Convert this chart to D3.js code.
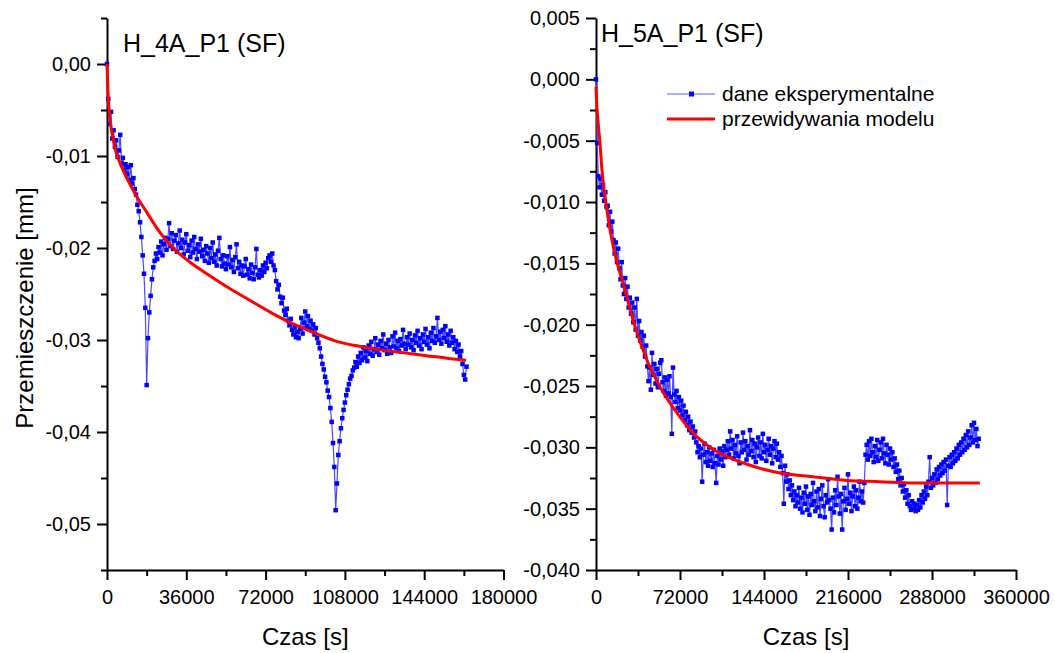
<!DOCTYPE html>
<meta charset="utf-8">
<style>
  body {
    margin: 0;
    background: #fff;
    font-family: Arial, "Liberation Sans", sans-serif;
  }
  .axis path, .axis line {
    stroke: #000;
    stroke-width: 2;
  }
  .axis text {
    font-family: Arial, "Liberation Sans", sans-serif;
    font-size: 20px;
    fill: #000;
  }
  .title {
    font-size: 25px;
  }
  .label {
    font-size: 24px;
  }
  .legend text {
    font-size: 21px;
  }
</style>
<body>
  <script src="https://d3js.org/d3.v7.min.js"></script>
  <script>
    var width = 1055,
    height = 653;

    // H_4A_P1 (SF): one reading every 600 s, displacement in micrometres
    var leftStep = 600;
    var leftDispUm = [
      0, -3.8, -6.5, -5.2, -8.1, -7.2, -9.0, -8.3, -10.1, -9.4,
      -7.7, -10.8, -10.2, -11.5, -10.9, -12.0, -11.2, -12.6, -11.0, -13.0,
      -12.4, -13.6, -14.2, -15.3, -16.0, -17.2, -18.8, -20.8, -22.8, -26.5,
      -34.9, -29.8, -27.0, -25.2, -23.4, -22.1, -21.4, -20.6, -21.2, -19.9,
      -20.5, -19.3, -20.8, -19.6, -18.9, -20.2, -19.0, -17.3, -19.8, -18.4,
      -20.1, -19.2, -18.6, -20.4, -19.5, -18.1, -20.0, -19.1, -20.7, -19.4,
      -18.5, -20.3, -19.7, -21.0, -19.2, -20.5, -18.8, -20.1, -21.2, -19.6,
      -20.4, -19.0, -20.9, -20.2, -21.4, -19.8, -20.6, -21.6, -20.0, -21.1,
      -19.4, -21.5, -20.7, -21.9, -20.3, -18.9, -21.2, -22.0, -20.8, -21.7,
      -22.3, -20.9, -21.8, -19.9, -22.1, -21.3, -22.6, -21.0, -19.6, -22.2,
      -21.5, -22.8, -21.9, -23.0, -22.0, -21.2, -22.9, -22.3, -23.3, -21.8,
      -22.7, -23.4, -22.1, -20.1, -22.9, -23.2, -22.4, -23.0, -21.9, -22.6,
      -21.6, -22.2, -21.1, -20.8, -21.5, -20.6, -21.9, -22.4, -23.6, -24.5,
      -24.0, -25.3, -26.0, -25.4, -26.8, -27.3, -26.6, -27.9, -28.4, -27.7,
      -28.9, -29.4, -28.6, -29.7, -29.1, -29.8, -28.8, -27.6, -29.3, -28.1,
      -26.9, -28.5, -27.4, -28.8, -27.9, -29.0, -28.3, -29.4, -28.7, -29.8,
      -30.3, -30.9, -31.8, -32.6, -33.2, -34.0, -34.6, -35.5, -36.2, -37.4,
      -38.9, -41.2, -43.8, -48.5, -45.6, -42.5, -41.0, -39.6, -38.5, -37.6,
      -36.8, -36.0, -35.4, -34.8, -34.2, -33.9, -33.3, -33.0, -32.4, -32.9,
      -31.8, -32.5, -31.4, -32.2, -30.8, -31.9, -31.2, -32.3, -30.6, -31.5,
      -30.2, -31.7, -31.0, -29.8, -31.3, -30.5, -31.6, -30.1, -30.9, -29.4,
      -31.1, -30.4, -31.5, -30.0, -30.8, -31.4, -29.6, -30.7, -29.2, -30.9,
      -30.1, -31.2, -29.9, -30.6, -28.9, -30.4, -31.0, -29.7, -30.5, -29.3,
      -30.8, -30.0, -31.1, -29.5, -30.3, -29.0, -30.6, -29.8, -31.0, -29.4,
      -30.2, -28.8, -30.5, -29.7, -30.9, -29.2, -30.1, -28.7, -30.3, -29.6,
      -27.6, -30.0, -29.1, -30.4, -28.9, -29.8, -28.5, -30.2, -29.4, -30.6,
      -29.0, -30.3, -29.7, -31.0, -30.1, -31.3, -30.5, -31.8, -31.2, -32.6,
      -33.8, -34.3, -32.9
    ];
    var leftModelTime = [0, 300, 800, 1500, 2500, 4000, 6000, 9000, 13000, 18000, 24000, 30000, 38000,
      46000, 55000, 65000, 75000, 85000, 95000, 105000, 115000, 125000, 135000, 145000, 155000, 163000];
    var leftModelDisp = [0, -0.0022, -0.0045, -0.0063, -0.0078, -0.0095, -0.0108, -0.0124, -0.0142, -0.0161,
      -0.0183, -0.0200, -0.0216, -0.0229, -0.0243, -0.0257, -0.0271, -0.0283, -0.0293, -0.0302, -0.0307,
      -0.0311, -0.0314, -0.0317, -0.0320, -0.0322];

    // H_5A_P1 (SF): one reading every 1000 s, displacement in micrometres
    var rightStep = 1000;
    var rightDispUm = [
      0, -5.2, -7.9, -8.8, -8.1, -9.4, -8.6, -9.9, -9.2, -10.4,
      -10.3, -11.9, -10.8, -12.4, -11.6, -13.1, -14.2, -13.3, -14.9, -13.8,
      -15.4, -16.3, -14.9, -16.8, -17.5, -16.2, -17.9, -16.9, -18.6, -17.8,
      -19.1, -18.2, -19.8, -18.6, -20.4, -17.9, -20.9, -19.7, -21.3, -20.6,
      -21.8, -20.9, -22.6, -21.7, -23.4, -24.6, -23.5, -25.3, -22.3, -24.1,
      -23.2, -24.8, -23.6, -25.1, -24.0, -23.1, -22.9, -24.7, -25.4, -24.3,
      -25.8, -24.5, -25.6, -24.2, -25.9, -28.9, -23.5, -25.7, -26.3, -25.4,
      -26.8, -25.9, -27.0, -26.2, -27.4, -26.6, -27.8, -27.1, -28.2, -27.5,
      -28.6, -27.9, -28.8, -28.3, -29.2, -28.7, -29.6, -30.4, -29.9, -30.8,
      -30.1, -32.8, -30.6, -29.7, -31.2, -30.4, -31.5, -30.0, -31.1, -30.5,
      -31.6, -30.2, -31.3, -32.9, -30.7, -31.4, -30.1, -31.0, -30.3, -31.5,
      -29.9, -30.8, -30.2, -29.5, -30.6, -28.7, -30.1, -29.4, -30.9, -29.8,
      -30.5, -29.1, -30.7, -31.3, -29.6, -30.4, -28.8, -30.2, -29.5, -31.0,
      -29.9, -30.6, -28.6, -30.3, -29.4, -30.8, -29.7, -31.2, -30.0, -29.2,
      -30.7, -29.6, -30.9, -28.9, -30.4, -29.8, -31.1, -30.2, -29.3, -30.6,
      -29.9, -31.3, -30.1, -29.5, -30.8, -29.7, -31.0, -30.4, -31.6, -30.7,
      -32.1, -34.6, -31.5, -32.8, -32.2, -33.4, -32.7, -33.9, -33.1, -34.3,
      -33.6, -34.8, -33.9, -34.5, -33.3, -35.0, -34.1, -35.3, -33.7, -34.6,
      -33.2, -35.1, -34.0, -35.5, -33.8, -34.7, -32.9, -34.4, -35.2, -33.6,
      -34.9, -33.4, -35.6, -34.2, -33.1, -34.8, -35.7, -33.9, -34.5, -32.6,
      -34.3, -35.0, -36.7, -34.1, -35.3, -33.5, -34.7, -32.4, -34.0, -35.4,
      -33.8, -36.7, -34.4, -33.3, -35.1, -34.2, -32.2, -34.6, -33.7, -35.2,
      -34.0, -33.2, -34.8, -33.5, -35.0, -34.1, -32.8, -34.4, -33.6, -34.5,
      -32.9, -30.6, -29.8, -31.0, -29.5, -30.7, -29.3, -30.4, -31.2, -29.9,
      -30.8, -29.4, -31.1, -30.2, -29.6, -30.9, -29.3, -30.5, -31.3, -29.8,
      -30.6, -31.4, -30.1, -31.0, -30.4, -31.6, -30.9, -32.0, -31.4, -32.6,
      -31.9, -33.1, -32.5, -33.6, -33.0, -34.1, -33.5, -34.6, -33.9, -34.8,
      -35.1, -34.4, -35.0, -34.6, -35.2, -34.7, -35.1, -34.3, -34.9, -33.9,
      -34.5, -33.6, -34.2, -33.2, -33.9, -32.8, -30.8, -33.3, -32.5, -33.1,
      -32.2, -32.9, -31.8, -32.6, -31.6, -32.3, -31.4, -32.1, -31.2, -31.9,
      -31.0, -34.7, -31.5, -30.8, -31.6, -30.6, -31.3, -30.4, -31.1, -30.1,
      -30.9, -29.8, -30.6, -29.6, -30.4, -29.3, -30.2, -29.0, -30.0, -28.7,
      -29.8, -29.2, -28.2, -29.6, -28.0, -29.4, -28.5, -29.9, -29.3
    ];
    var rightModelTime = [0, 500, 1700, 3400, 5100, 9400, 15400, 24000, 32600, 43700, 55700, 69400,
      84000, 101000, 127000, 158000, 186000, 215000, 243000, 272000, 300000, 329000];
    var rightModelDisp = [-0.0006, -0.0018, -0.0034, -0.0052, -0.0074, -0.0107, -0.0139, -0.0169, -0.0199,
      -0.0229, -0.0252, -0.0272, -0.0289, -0.0302, -0.0313, -0.0321, -0.0324, -0.0327, -0.0328, -0.0329,
      -0.0329, -0.0329];

    var leftXTicks = [0, 36000, 72000, 108000, 144000, 180000];
    var leftYTicks = [0, -0.01, -0.02, -0.03, -0.04, -0.05];
    var rightXTicks = [0, 72000, 144000, 216000, 288000, 360000];
    var rightYTicks = [0.005, 0, -0.005, -0.01, -0.015, -0.02, -0.025, -0.03, -0.035, -0.04];

    var legendNames = ["dane eksperymentalne", "przewidywania modelu"];

    var locale = d3.formatLocale({decimal: ",", thousands: "", grouping: [3], currency: ["", ""], minus: "-"});

    var svg = d3.select("body").append("svg")
    .attr("width", width)
    .attr("height", height);

    function minorTicks(major, domain) {
      var lo = Math.min(domain[0], domain[1]), hi = Math.max(domain[0], domain[1]);
      var step = major[1] - major[0];
      var m = d3.pairs(major).map(function(p) { return (p[0] + p[1]) / 2; });
      m.push(major[0] - step / 2, major[major.length - 1] + step / 2);
      return m.filter(function(v) { return v >= lo - 1e-9 && v <= hi + 1e-9; });
    }

    function drawPanel(o) {
      var x = d3.scaleLinear().domain(o.xDomain).range(o.xRange);
      var y = d3.scaleLinear().domain(o.yDomain).range([570, 18]);
      var g = svg.append("g");

      // minor ticks
      g.append("g").attr("class", "axis")
      .attr("transform", "translate(0,570)")
      .call(d3.axisBottom(x).tickValues(minorTicks(o.xTicks, o.xDomain)).tickSize(6).tickSizeOuter(0).tickFormat(""))
      .select(".domain").remove();
      g.append("g").attr("class", "axis")
      .attr("transform", "translate(" + o.xRange[0] + ",0)")
      .call(d3.axisLeft(y).tickValues(minorTicks(o.yTicks, o.yDomain)).tickSize(6).tickSizeOuter(0).tickFormat(""))
      .select(".domain").remove();

      // major ticks + labels
      g.append("g").attr("class", "axis")
      .attr("transform", "translate(0,570)")
      .call(d3.axisBottom(x).tickValues(o.xTicks).tickSize(10).tickSizeOuter(0).tickPadding(10)
        .tickFormat(function(d) { return String(d); }));
      g.append("g").attr("class", "axis")
      .attr("transform", "translate(" + o.xRange[0] + ",0)")
      .call(d3.axisLeft(y).tickValues(o.yTicks).tickSize(10).tickSizeOuter(0).tickPadding(6)
        .tickFormat(locale.format(o.yFormat)));

      // micrometres -> mm
      var pts = o.dispUm.map(function(v, i) { return [i * o.step, v / 1000]; });
      var model = o.modelTime.map(function(t, i) { return [t, o.modelDisp[i]]; });

      var line = d3.line()
      .x(function(d) { return x(d[0]); })
      .y(function(d) { return y(d[1]); });

      g.append("path")
      .datum(pts)
      .attr("fill", "none")
      .attr("stroke", "#4a4aff")
      .attr("stroke-width", 1.2)
      .attr("d", line);

      g.selectAll("rect.pt")
      .data(pts)
      .join("rect")
      .attr("class", "pt")
      .attr("x", function(d) { return x(d[0]) - 2.25; })
      .attr("y", function(d) { return y(d[1]) - 2.25; })
      .attr("width", 4.5)
      .attr("height", 4.5)
      .attr("fill", "#0000ff");

      g.append("path")
      .datum(model)
      .attr("fill", "none")
      .attr("stroke", "#ff0000")
      .attr("stroke-width", 3)
      .attr("d", line.curve(d3.curveMonotoneX));

      g.append("text")
      .attr("class", "title")
      .attr("x", o.titleX)
      .attr("y", o.titleY)
      .text(o.title);

      g.append("text")
      .attr("class", "label")
      .attr("x", (o.xRange[0] + o.xRange[1]) / 2)
      .attr("y", 645)
      .attr("text-anchor", "middle")
      .text("Czas [s]");

      return g;
    }

    drawPanel({
      xDomain: [0, 180000], xRange: [107, 503.5],
      yDomain: [-0.055, 0.005],
      xTicks: leftXTicks, yTicks: leftYTicks, yFormat: ".2f",
      step: leftStep, dispUm: leftDispUm,
      modelTime: leftModelTime, modelDisp: leftModelDisp,
      title: "H_4A_P1 (SF)", titleX: 123, titleY: 52
    });

    drawPanel({
      xDomain: [0, 360000], xRange: [596, 1016],
      yDomain: [-0.04, 0.005],
      xTicks: rightXTicks, yTicks: rightYTicks, yFormat: ".3f",
      step: rightStep, dispUm: rightDispUm,
      modelTime: rightModelTime, modelDisp: rightModelDisp,
      title: "H_5A_P1 (SF)", titleX: 601, titleY: 42
    });

    svg.append("text")
    .attr("class", "label")
    .attr("transform", "translate(33,308) rotate(-90)")
    .attr("text-anchor", "middle")
    .text("Przemieszczenie [mm]");

    // legend
    var legend = svg.append("g").attr("class", "legend");
    var ly = [94, 119];
    legend.append("line")
    .attr("x1", 667).attr("x2", 715).attr("y1", ly[0]).attr("y2", ly[0])
    .attr("stroke", "#5a5aff").attr("stroke-width", 1);
    legend.append("rect")
    .attr("x", 689).attr("y", ly[0] - 2.5).attr("width", 5).attr("height", 5)
    .attr("fill", "#0000ff");
    legend.append("line")
    .attr("x1", 667).attr("x2", 715).attr("y1", ly[1]).attr("y2", ly[1])
    .attr("stroke", "#ff0000").attr("stroke-width", 3);
    legend.selectAll("text")
    .data(legendNames)
    .join("text")
    .attr("x", 722)
    .attr("y", function(d, i) { return ly[i]; })
    .attr("dy", "0.35em")
    .text(function(d) { return d; });
  </script>
</body>
